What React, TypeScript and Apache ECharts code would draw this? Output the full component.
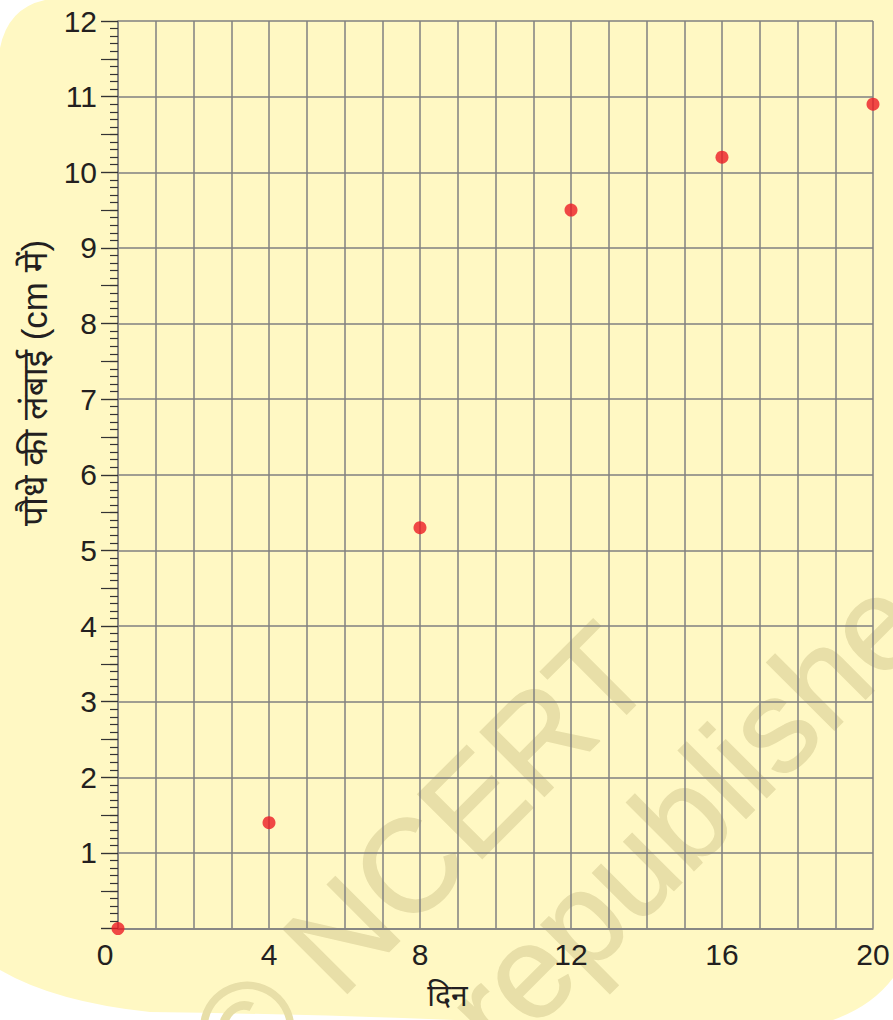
import React, { useEffect, useRef } from 'react';
import * as echarts from 'echarts';

const days = [0, 4, 8, 12, 16, 20];
const heights = [0, 1.4, 5.3, 9.5, 10.2, 10.9];
const xLabelValues = [0, 4, 8, 12, 16, 20];
const yLabelValues = [1, 2, 3, 4, 5, 6, 7, 8, 9, 10, 11, 12];
const xTitle = 'दिन';
const yTitle = 'पौधे की लंबाई (cm में)';
const watermarkLine1 = '© NCERT';
const watermarkLine2 = 'republished';

const FONT = "'Liberation Sans', Arial, 'Noto Sans', sans-serif";
const TEXT = '#231f20';
const GRID = '#818181';
const WM = '#e8dfa8';

export default function App() {
  const ref = useRef<HTMLDivElement>(null);
  useEffect(() => {
    echarts.graphic.registerShape(
      'bgBlob',
      echarts.graphic.extendPath(
        'M 0 48 Q 8 8 45 0 L 893 0 L 893 978 Q 872 1006 833 1020 L 455 1020 Q 300 1014 150 1012 Q 55 1002 0 970 Z',
        {}
      )
    );
    const chart = echarts.init(ref.current!, null, { renderer: 'svg' });
    const tickStyle = { color: '#333333', width: 1.2 };
    chart.setOption({
      animation: false,
      backgroundColor: '#ffffff',
      textStyle: { fontFamily: FONT },
      graphic: [
        { type: 'bgBlob', x: 0, y: 0, scaleX: 1, scaleY: 1, z: -20, silent: true, style: { fill: '#fff8c3' } },
        {
          type: 'text', x: 420, y: 856, rotation: Math.PI / 4, z: -10, silent: true,
          style: { text: watermarkLine1, fontSize: 132, fontFamily: FONT, fill: WM, stroke: WM, lineWidth: 1.5, align: 'center', verticalAlign: 'middle' },
        },
        {
          type: 'text', x: 469, y: 1031, rotation: Math.PI / 4, z: -10, silent: true,
          style: { text: watermarkLine2, fontSize: 132, fontFamily: FONT, fill: WM, stroke: WM, lineWidth: 1.5, align: 'left', verticalAlign: 'middle' },
        },
      ],
      grid: { left: 118, right: 20, top: 21, bottom: 91.4, containLabel: false, z: 5 },
      xAxis: {
        type: 'value', min: 0, max: 20, interval: 1, z: 5,
        axisLine: { show: true, lineStyle: { color: GRID, width: 1.6 } },
        axisTick: { show: false },
        splitLine: { show: true, lineStyle: { color: GRID, width: 1.5 } },
        axisLabel: {
          margin: 11, fontSize: 30, color: TEXT, fontFamily: FONT,
          formatter: (v: number) => (xLabelValues.includes(v) ? (v === 0 ? '{z|0}' : String(v)) : ''),
          rich: { z: { fontSize: 30, color: TEXT, fontFamily: FONT, padding: [0, 26, 0, 0] } },
        },
        name: xTitle, nameLocation: 'middle', nameGap: 52,
        nameTextStyle: { fontSize: 30, color: TEXT, fontFamily: FONT, padding: [0, 96, 0, 0] },
      },
      yAxis: [
        {
          type: 'value', min: 0, max: 12, interval: 1, position: 'left', z: 5,
          axisLine: { show: true, lineStyle: { color: GRID, width: 1.6 } },
          axisTick: { show: true, inside: false, length: 17, lineStyle: tickStyle },
          minorTick: { show: true, splitNumber: 10, length: 8, lineStyle: tickStyle },
          splitLine: { show: true, lineStyle: { color: GRID, width: 1.7 } },
          axisLabel: {
            margin: 21, fontSize: 30, color: TEXT, fontFamily: FONT,
            formatter: (v: number) => (yLabelValues.includes(v) ? String(v) : ''),
          },
          name: yTitle, nameLocation: 'middle', nameGap: 66,
          nameTextStyle: { fontSize: 35, color: TEXT, fontFamily: FONT, padding: [0, 0, 0, 184] },
        },
        {
          type: 'value', min: 0, max: 12, interval: 0.5, position: 'left', offset: 0, z: 5,
          axisLine: { show: false },
          axisTick: { show: true, inside: false, length: 17, lineStyle: tickStyle },
          axisLabel: { show: false },
          splitLine: { show: false },
        },
      ],
      series: [
        {
          type: 'scatter',
          yAxisIndex: 0,
          data: days.map((d, i) => [d, heights[i]]),
          symbol: 'circle',
          symbolSize: 13,
          clip: false,
          z: 20,
          itemStyle: { color: '#ec1c24' },
        },
      ],
    });
    return () => chart.dispose();
  }, []);
  return (
    <div
      ref={ref}
      style={{ position: 'absolute', left: 0, top: 0, width: 893, height: 1020, background: '#ffffff' }}
    />
  );
}
